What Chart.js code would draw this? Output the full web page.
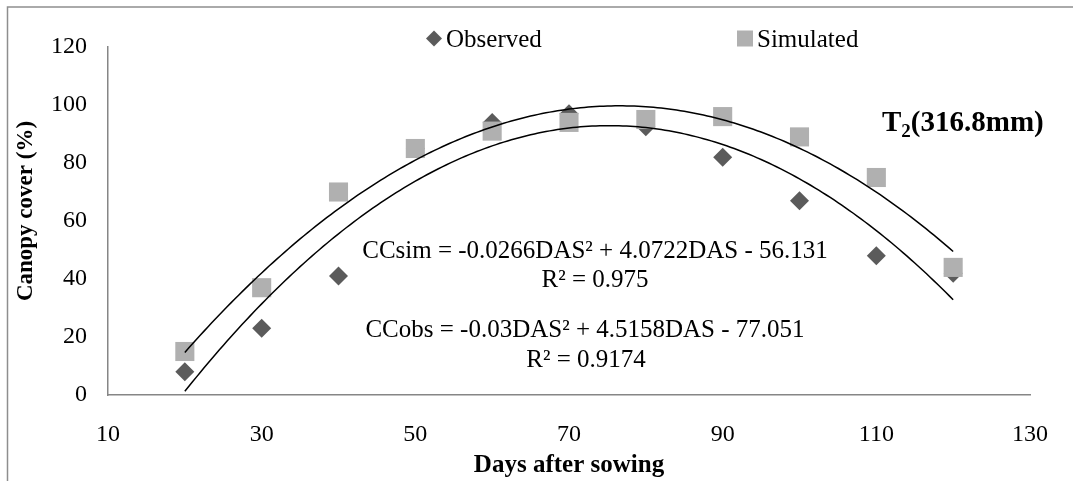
<!DOCTYPE html>
<html>
<head>
<meta charset="utf-8">
<script src="https://cdn.jsdelivr.net/npm/chart.js@4.4.1/dist/chart.umd.min.js"></script>
<style>
  html, body { margin: 0; padding: 0; background: #fff; }
  canvas { display: block; }
</style>
</head>
<body>
<canvas id="ccChart" width="1073" height="481"></canvas>
<script>
// days after sowing
const days = [20, 30, 40, 50, 60, 70, 80, 90, 100, 110, 120];
// canopy cover (%)
const observed = [8, 23, 41, 85, 94, 97, 92.5, 82, 67, 48, 42];
const simulated = [15, 37, 70, 85, 91, 94, 95, 96, 89, 75, 44];
// polynomial trendlines: c0 + c1*DAS + c2*DAS^2 (from the equations on the chart)
const simFit = [-56.131, 4.0722, -0.0266];
const obsFit = [-77.051, 4.5158, -0.03];
const xTicks = [10, 30, 50, 70, 90, 110, 130];
const yTicks = [0, 20, 40, 60, 80, 100, 120];

const serif = '"Liberation Serif", "Times New Roman", serif';
Chart.defaults.font.family = serif;
Chart.defaults.color = '#000';

const obsColor = '#5b5b5b';
const simColor = '#b0b0b0';
const axisColor = '#868686';

function toPoints(xs, ys) {
  return xs.map((x, i) => ({ x: x, y: ys[i] }));
}

// trendlines, legend, equations and frame
const extras = {
  id: 'extras',
  afterDatasetsDraw(chart) {
    const ctx = chart.ctx;
    const xs = chart.scales.x, ys = chart.scales.y;
    ctx.save();
    ctx.strokeStyle = '#000';
    ctx.lineWidth = 1.5;
    [simFit, obsFit].forEach(c => {
      ctx.beginPath();
      for (let d = days[0]; d <= days[days.length - 1]; d += 0.5) {
        const v = c[0] + c[1] * d + c[2] * d * d;
        const px = xs.getPixelForValue(d), py = ys.getPixelForValue(v);
        if (d === days[0]) ctx.moveTo(px, py); else ctx.lineTo(px, py);
      }
      ctx.stroke();
    });
    ctx.restore();
  },
  afterDraw(chart) {
    const ctx = chart.ctx;
    ctx.save();
    // outer frame (left and top)
    ctx.strokeStyle = '#8e8e8e';
    ctx.lineWidth = 1.5;
    ctx.beginPath();
    ctx.moveTo(7.5, 481);
    ctx.lineTo(7.5, 7);
    ctx.lineTo(1073, 7);
    ctx.stroke();

    ctx.fillStyle = '#000';
    ctx.textBaseline = 'middle';

    // legend
    ctx.fillStyle = obsColor;
    ctx.beginPath();
    ctx.moveTo(434, 30.5); ctx.lineTo(442, 38.5); ctx.lineTo(434, 46.5); ctx.lineTo(426, 38.5);
    ctx.closePath();
    ctx.fill();
    ctx.fillStyle = simColor;
    ctx.fillRect(737, 30.5, 16, 16);
    ctx.fillStyle = '#000';
    ctx.font = '25px ' + serif;
    ctx.textAlign = 'left';
    ctx.fillText('Observed', 446, 40);
    ctx.fillText('Simulated', 757, 40);

    // equations
    ctx.textAlign = 'center';
    ctx.fillText('CCsim = -0.0266DAS\u00b2 + 4.0722DAS - 56.131', 595, 251);
    ctx.fillText('R\u00b2 = 0.975', 595, 280);
    ctx.fillText('CCobs = -0.03DAS\u00b2 + 4.5158DAS - 77.051', 585, 330);
    ctx.fillText('R\u00b2 = 0.9174', 586, 360);

    // treatment label T2(316.8mm)
    ctx.textAlign = 'left';
    ctx.font = 'bold 29px ' + serif;
    let x = 882;
    ctx.fillText('T', x, 124);
    x += ctx.measureText('T').width;
    ctx.font = 'bold 19px ' + serif;
    ctx.fillText('2', x, 132);
    x += ctx.measureText('2').width;
    ctx.font = 'bold 29px ' + serif;
    ctx.fillText('(316.8mm)', x, 124);

    // y axis title
    ctx.font = 'bold 23px ' + serif;
    ctx.translate(26, 211);
    ctx.rotate(-Math.PI / 2);
    ctx.textAlign = 'center';
    ctx.fillText('Canopy cover (%)', 0, 0);
    ctx.restore();
  }
};

new Chart(document.getElementById('ccChart'), {
  type: 'scatter',
  data: {
    datasets: [{
      label: 'Observed',
      data: toPoints(days, observed),
      pointStyle: 'rectRot',
      pointRadius: 9.5,
      pointHoverRadius: 9.5,
      backgroundColor: obsColor,
      borderWidth: 0,
      order: 2
    }, {
      label: 'Simulated',
      data: toPoints(days, simulated),
      pointStyle: 'rect',
      pointRadius: 13.5,
      pointHoverRadius: 13.5,
      backgroundColor: simColor,
      borderWidth: 0,
      order: 1
    }]
  },
  options: {
    responsive: false,
    animation: false,
    layout: { padding: { top: 47, right: 40, left: 0, bottom: 0 } },
    plugins: {
      legend: { display: false },
      tooltip: { enabled: false }
    },
    scales: {
      x: {
        type: 'linear',
        min: 10,
        max: 130,
        afterBuildTicks: s => { s.ticks = xTicks.map(v => ({ value: v })); },
        ticks: { padding: 25, font: { size: 24 }, color: '#000' },
        grid: { display: false, drawTicks: false },
        border: { display: true, color: axisColor, width: 1.5 },
        title: {
          display: true,
          text: 'Days after sowing',
          font: { size: 25, weight: 'bold' },
          color: '#000',
          padding: { top: 0, bottom: 0 }
        },
        afterFit: s => { s.height = 86; }
      },
      y: {
        min: 0,
        max: 120,
        afterBuildTicks: s => { s.ticks = yTicks.map(v => ({ value: v })); },
        ticks: { padding: 21, font: { size: 24 }, color: '#000' },
        grid: { display: false, drawTicks: false },
        border: { display: true, color: axisColor, width: 1.5 },
        afterFit: s => { s.width = 108; }
      }
    }
  },
  plugins: [extras]
});
</script>
</body>
</html>
